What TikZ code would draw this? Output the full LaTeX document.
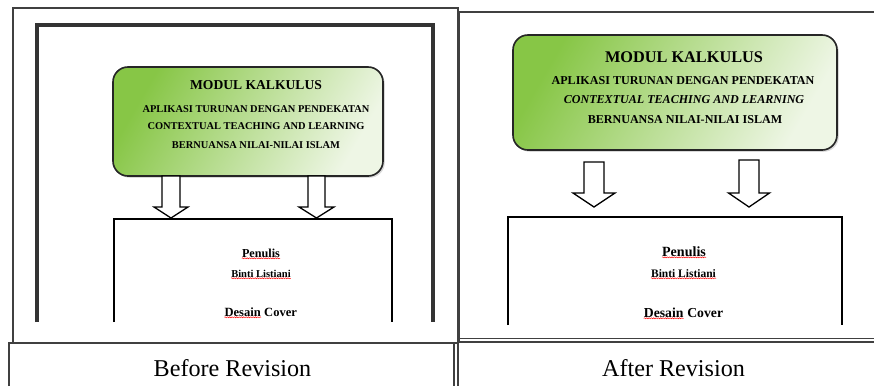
\documentclass[tikz,border=0pt]{standalone}
\usepackage{fontspec}
\setmainfont{Liberation Serif}
\usepackage{xcolor}
\usepackage{tikz}
\usetikzlibrary{shapes,arrows,positioning,fit,shadows,decorations.pathmorphing}
\definecolor{modgreen}{RGB}{135,198,70}
\definecolor{modpale}{RGB}{238,246,229}
% hollow down arrow: centre x, top, neck, tip, shaft half width, head half width
\newcommand{\blockdown}[6]{%
  \draw[blockarrow] ({#1-#5},#2) -- ({#1+#5},#2) -- ({#1+#5},#3) -- ({#1+#6},#3)
    -- (#1,#4) -- ({#1-#6},#3) -- ({#1-#5},#3) -- cycle;}

\begin{document}
\begin{tikzpicture}[x=0.03cm,y=-0.03cm,
  frame/.style={line width=1.1pt,black!75},
  innerframe/.style={line width=2.6pt,black!80},
  modbox/.style={draw=black!85,line width=1.4pt,rounded corners=0.45cm,inner sep=0pt,
    left color=modgreen,right color=modpale,shading angle=60,
    drop shadow={opacity=0.3,shadow xshift=1.5pt,shadow yshift=-1.5pt}},
  coverbox/.style={line width=1.1pt,black},
  blockarrow/.style={draw=black,fill=white,line width=1.1pt,line join=miter},
  txt/.style={font=\bfseries\fontsize{#1}{#1}\selectfont,anchor=base,inner sep=0pt},
  caption/.style={font=\fontsize{20.6}{24}\selectfont,anchor=base,inner sep=0pt},
  spell/.style={red,line width=0.4pt,decorate,decoration={snake,amplitude=0.45pt,segment length=2pt}}]
\useasboundingbox (0,0) rectangle (874,386);

% table lines
\draw[frame] (13,343) -- (13,8) -- (458,8) -- (458,343);
\draw[frame] (459,341) -- (459,12) -- (874,12);
\draw[frame] (9,386) -- (9,343) -- (457,343);
\draw[frame] (454,343) -- (454,386);
\draw[frame] (458,343) -- (458,386);
\draw[frame] (458,338.5) -- (874,338.5);
\draw[frame] (458,342) -- (874,342);

% Before revision
\draw[innerframe] (37,322) -- (37,25) -- (433,25) -- (433,322);
\node[modbox,fit={(113,67) (383,176)}] (modL) {};
\node[txt=11.6] (kalL) at (256,89) {MODUL KALKULUS};
\node[txt=8.9] (apL) at (256,112) {APLIKASI TURUNAN DENGAN PENDEKATAN};
\node[txt=8.9] (ctlL) at (256,129.5) {CONTEXTUAL TEACHING AND LEARNING};
\node[txt=8.9] (islL) at (256,148) {BERNUANSA NILAI-NILAI ISLAM};
\blockdown{171}{176}{207}{218}{9}{17}
\blockdown{316.5}{176}{207}{218}{8.5}{17.5}
\draw[coverbox] (114,322) -- (114,219) -- (392,219) -- (392,322);
\node[txt=10.4] (penL) at (261,257) {Penulis};
\node[txt=9] (binL) at (261,277) {Binti Listiani};
\node[txt=10.7,anchor=base east] (desL) at (261,316) {Desain};
\node[txt=10.7,anchor=base west] (covL) at (264,316) {Cover};
\draw[spell] ([yshift=-0.8pt]penL.south west) -- ([yshift=-0.8pt]penL.south east);
\draw[spell] ([yshift=-0.8pt]binL.south west) -- ([yshift=-0.8pt]binL.south east);
\draw[spell] ([yshift=-0.8pt]desL.south west) -- ([yshift=-0.8pt]desL.south east);
\node[caption] (capL) at (232.5,376) {Before Revision};

% After revision
\node[modbox,fit={(513,35) (837,150)}] (modR) {};
\node[txt=13.9] (kalR) at (684,62) {MODUL KALKULUS};
\node[txt=10.3] (apR) at (683,84.5) {APLIKASI TURUNAN DENGAN PENDEKATAN};
\node[txt=10.3,font=\bfseries\itshape\fontsize{10.3}{10.3}\selectfont] (ctlR) at (684,103) {CONTEXTUAL TEACHING AND LEARNING};
\node[txt=10.3] (islR) at (685,123) {BERNUANSA NILAI-NILAI ISLAM};
\blockdown{594}{162}{193}{207}{10}{21}
\blockdown{749}{160}{193}{207}{10}{20.5}
\draw[coverbox] (508,325) -- (508,217) -- (842,217) -- (842,325);
\node[txt=12] (penR) at (684,256) {Penulis};
\node[txt=9.8] (binR) at (683.5,277) {Binti Listiani};
\node[txt=11.7,anchor=base east] (desR) at (683.7,317) {Desain};
\node[txt=11.7,anchor=base west] (covR) at (687.1,317) {Cover};
\draw[spell] ([yshift=-0.8pt]penR.south west) -- ([yshift=-0.8pt]penR.south east);
\draw[spell] ([yshift=-0.8pt]binR.south west) -- ([yshift=-0.8pt]binR.south east);
\draw[spell] ([yshift=-0.8pt]desR.south west) -- ([yshift=-0.8pt]desR.south east);
\node[caption] (capR) at (673.5,376) {After Revision};
\end{tikzpicture}
\end{document}
